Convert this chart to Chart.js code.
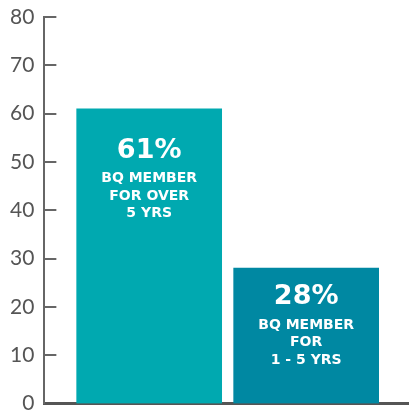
<!DOCTYPE html>
<html>
<head>
<meta charset="utf-8">
<script src="https://cdn.jsdelivr.net/npm/chart.js@4.4.1/dist/chart.umd.min.js"></script>
<style>
  html, body { margin: 0; padding: 0; background: #fff; overflow: hidden; }
  #wrap { width: 409px; height: 412px; overflow: hidden; }
  canvas { display: block; }
</style>
</head>
<body>
<div id="wrap"><canvas id="c" width="409" height="426"></canvas></div>
<script>
const categories = ["BQ MEMBER FOR OVER 5 YRS", "BQ MEMBER FOR 1 - 5 YRS"];
const values = [61, 28];
const percentLabels = ["61%", "28%"];
const captionLines = [["BQ MEMBER", "FOR OVER", "5 YRS"], ["BQ MEMBER", "FOR", "1 - 5 YRS"]];
const yTicks = [0, 10, 20, 30, 40, 50, 60, 70, 80];

const barColors = ["#00A9B0", "#0088A2"];
const axisColor = "#666666";

const innerLabels = {
  id: "innerLabels",
  afterDatasetsDraw(chart) {
    const ctx = chart.ctx;
    const meta = chart.getDatasetMeta(0);
    const offsets = [42, 29];
    ctx.save();
    ctx.fillStyle = "#ffffff";
    ctx.textAlign = "center";
    ctx.textBaseline = "middle";
    meta.data.forEach((bar, i) => {
      const x = bar.x;
      const y0 = bar.y + offsets[i];
      ctx.font = "bold 27px 'DejaVu Sans'";
      ctx.fillText(percentLabels[i], x, y0);
      ctx.font = "bold 14px 'DejaVu Sans'";
      captionLines[i].forEach((ln, j) => {
        ctx.fillText(ln, x, y0 + 28 + j * 17.5);
      });
    });
    ctx.restore();
  }
};

const yTickMarks = {
  id: "yTickMarks",
  afterDraw(chart) {
    const ctx = chart.ctx;
    const ys = chart.scales.y;
    const left = chart.chartArea.left;
    ctx.save();
    ctx.strokeStyle = axisColor;
    ctx.lineWidth = 2;
    yTicks.forEach(v => {
      if (v === 0) return;
      const py = Math.round(ys.getPixelForValue(v));
      ctx.beginPath();
      ctx.moveTo(left, py);
      ctx.lineTo(left + 12, py);
      ctx.stroke();
    });
    ctx.restore();
  }
};

new Chart(document.getElementById("c"), {
  type: "bar",
  data: {
    datasets: [{
      label: "Members",
      data: values.map((v, i) => ({ x: i + 1, y: v })),
      backgroundColor: barColors,
      borderWidth: 0,
      barThickness: 145
    }]
  },
  options: {
    responsive: false,
    animation: false,
    devicePixelRatio: 1,
    layout: { padding: { left: 0, right: 0, top: 17, bottom: 13 } },
    plugins: { legend: { display: false }, tooltip: { enabled: false } },
    scales: {
      x: {
        type: "linear",
        offset: false,
        min: 0.3323,
        max: 2.655,
        grid: { display: false, drawTicks: false, offset: false },
        border: { display: true, color: "#555555", width: 3 },
        ticks: { display: false }
      },
      y: {
        min: 0,
        max: 80,
        afterBuildTicks(scale) { scale.ticks = yTicks.map(v => ({ value: v })); },
        afterFit(scale) { scale.paddingTop = 0; },
        grid: { display: false, drawTicks: false },
        border: { display: true, color: axisColor, width: 2 },
        ticks: {
          padding: 10,
          color: "#555555",
          font: { family: "Lato", size: 21 }
        }
      }
    }
  },
  plugins: [innerLabels, yTickMarks]
});
</script>
</body>
</html>
